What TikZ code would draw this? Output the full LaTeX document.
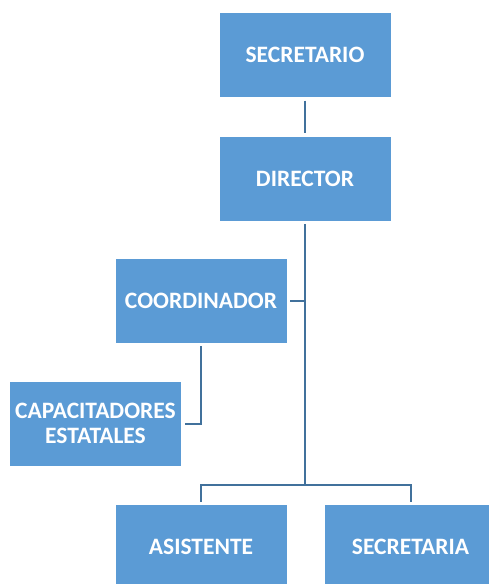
\documentclass[tikz,border=0pt]{standalone}
\usepackage{fontspec}
\setmainfont{Carlito}
\definecolor{boxBlue}{RGB}{91, 155, 213}
\definecolor{lineBlue}{RGB}{65, 113, 156}

\begin{document}
\begin{tikzpicture}[x=1pt, y=-1pt,
        orgbox/.style={fill=boxBlue, draw=none, minimum width=171pt, minimum height=84pt, inner sep=0pt, outer sep=3.5pt, align=center, text=white, font=\fontsize{23.5pt}{26pt}\selectfont\bfseries},
        orgline/.style={draw=lineBlue, line width=2pt}]
                \useasboundingbox (0,0) rectangle (489,584);
                \clip (0,0) rectangle (489,584);
                % boxes
                \node[orgbox] (secretario) at (305,55) {SECRETARIO};
                \node[orgbox] (director) at (305,178.5) {DIRECTOR};
                \node[orgbox] (coordinador) at (201,300.5) {COORDINADOR};
                \node[orgbox] (capacitadores) at (95.5,423.5) {CAPACITADORES\\[-1pt]ESTATALES};
                \node[orgbox] (asistente) at (201,547) {ASISTENTE};
                \node[orgbox] (secretaria) at (410.5,547) {SECRETARIA};
                % connectors
                \coordinate (hubrow) at (0,485);
                \coordinate (split) at (director.south |- hubrow);
                \draw[orgline] (secretario.south) -- (director.north);
                \draw[orgline] (director.south) -- (split);
                \draw[orgline] (coordinador.east) -- (coordinador.east -| director.south);
                \draw[orgline] (coordinador.south) |- (capacitadores.east);
                \draw[orgline] (split) -| (asistente.north);
                \draw[orgline] (split) -| (secretaria.north);
            \end{tikzpicture}
\end{document}
